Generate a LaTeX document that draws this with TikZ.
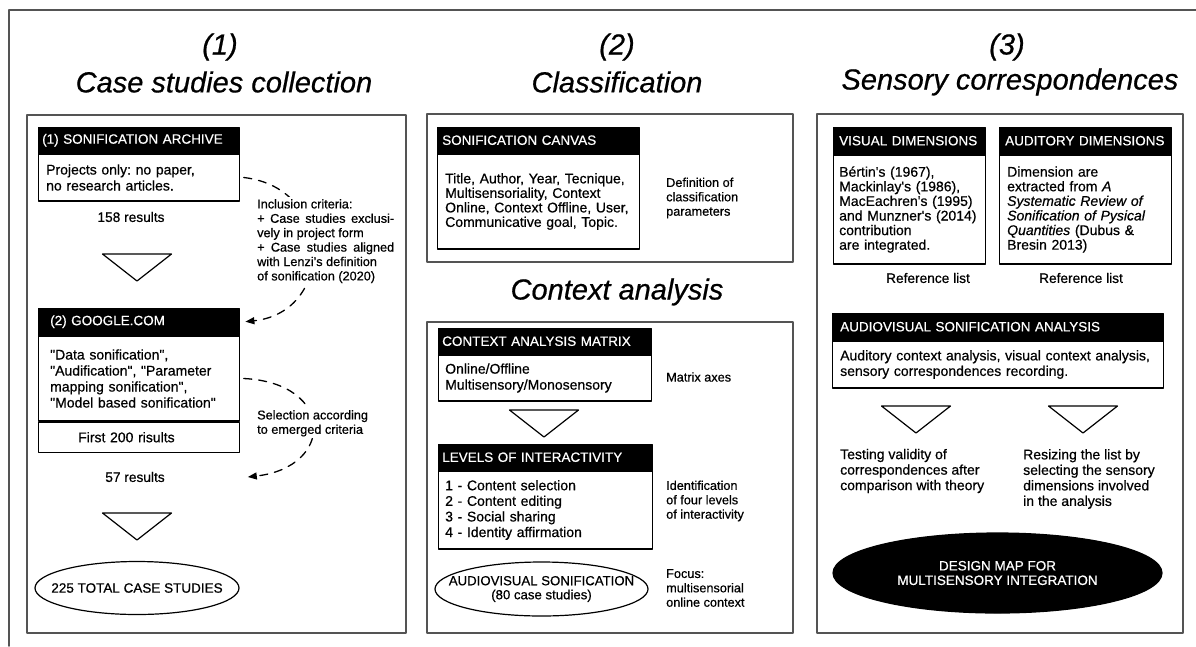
\documentclass[tikz,border=0pt]{standalone}
\usepackage{fontspec}
\setmainfont{Liberation Sans}[FakeBold=0.6]
\usetikzlibrary{arrows.meta,positioning,shapes.geometric}
\definecolor{framegray}{rgb}{0.33,0.33,0.33}

\newcommand{\hdrfont}{\fontsize{13.5}{15}\selectfont}
\newcommand{\txtfont}[1]{\fontsize{14}{#1}\selectfont}
\newcommand{\sidefont}{\fontsize{12.7}{14.4}\selectfont}
\newcommand{\ttlfont}{\fontsize{29}{30}\selectfont\itshape}
\newcommand{\qt}[1]{\textquotedbl#1\textquotedbl}
\frenchspacing

\begin{document}
\begin{tikzpicture}[x=1pt,y=-1pt,line cap=round,line join=round,>={Triangle[length=9pt,width=7pt]},
  panel/.style={draw=framegray,line width=1.5pt},
  hdr/.style={draw=black,fill=black,text=white,anchor=north west,minimum height=26pt,inner xsep=4pt,inner ysep=0pt,align=left,font=\hdrfont},
  bodybox/.style={draw=black,line width=1.2pt,align=left,inner xsep=8pt,inner ysep=0pt},
  sidetxt/.style={anchor=west,align=left,inner sep=0pt,font=\sidefont},
  note/.style={font=\fontsize{13.7}{15}\selectfont},
  ttl/.style={font=\ttlfont},
  oval/.style={ellipse,draw=black,line width=1.2pt,inner sep=0pt},
  ovaltxt/.style={align=center,inner sep=0pt,font=\hdrfont},
  crit/.style={dash pattern=on 8pt off 7pt,line width=1.3pt,->},
  downtri/.pic={\draw[line width=1.2pt] (-34.5,0) -- (34.5,0) -- (0,27) -- cycle;}
]
\useasboundingbox (0,0) rectangle (1196,646);

% outer frame
\draw[framegray,line width=1.5pt] (9,646) -- (9,10) -- (1196,10);

% (1) case studies collection
\draw[panel] (27,115) rectangle (406,633);
\node[ttl] (num1) at (220,47) {(1)};
\node[ttl] (ttl1) at (224,82) {Case studies collection};

\node[hdr,text width=193pt] (archH) at (38,127) {(1) SONIFICATION ARCHIVE};
\node[bodybox,text width=185pt,minimum height=47pt,font=\txtfont{16}] (archB) [below=0pt of archH] {Projects only: no paper,\\no research articles.};
\node[note] (res1) at (131,217) {158 results};
\pic at (137,254) {downtri};

\node[hdr,text width=177pt,inner xsep=12pt,minimum height=27pt] (googH) at (38,308) {(2) GOOGLE.COM};
\node[bodybox,text width=177pt,inner xsep=12pt,minimum height=85pt,font=\txtfont{16}] (googB) [below=0pt of googH] {\qt{Data sonification},\\\qt{Audification}, \qt{Parameter\\mapping sonification},\\\qt{Model based sonification}};
\node[bodybox,text width=121pt,inner xsep=40pt,minimum height=30pt,font=\txtfont{16}] (googF) [below=0pt of googB] {First 200 risults};
\node[note] (res2) at (135,477) {57 results};
\pic at (137,513) {downtri};
\node[oval,minimum width=204pt,minimum height=53pt] (total) at (137,588) {};
\node[ovaltxt] (totalT) at (total) {225 TOTAL CASE STUDIES};

% dashed selection arrows
\draw[crit] ([xshift=4pt]archB.east) .. controls (335,188) and (335,312) .. ([xshift=6pt]googH.east);
\node[sidetxt,fill=white,text width=137pt,align=justify,anchor=north west,inner sep=2pt] (incl) at (255,197) {Inclusion criteria:\newline + Case studies exclusi-\linebreak vely in project form\newline + Case studies aligned\linebreak with Lenzi’s definition\newline of sonification (2020)};
\coordinate (c2e) at ([xshift=8pt]googF.east |- res2.center);
\draw[crit] ([xshift=4pt]googB.east) .. controls (335,383) and (335,467) .. (c2e);
\node[sidetxt,fill=white,anchor=north west,inner sep=2pt] (sel) at (255,408) {Selection according\\to emerged criteria};

% (2) classification
\draw[panel] (427,114) rectangle (793,262);
\node[ttl] (num2) at (617,47) {(2)};
\node[ttl] (ttl2) at (617,82) {Classification};
\node[hdr,text width=192pt,inner xsep=5pt] (canvH) at (437,127) {SONIFICATION CANVAS};
\node[bodybox,text width=186pt,minimum height=95pt,font=\txtfont{14.5}] (canvB) [below=0pt of canvH] {Title, Author, Year, Tecnique,\\Multisensoriality, Context\\Online, Context Offline, User,\\Communicative goal, Topic.};
\node[sidetxt] (canvS) at (666,198) {Definition of\\classification\\parameters};

% context analysis
\node[ttl] (ttl2b) at (617,292) {Context analysis};
\draw[panel] (427,322) rectangle (793,633);
\node[hdr,text width=205pt] (camH) at (438,328) {CONTEXT ANALYSIS MATRIX};
\node[bodybox,text width=199pt,inner xsep=7pt,minimum height=46pt,font=\txtfont{16}] (camB) [below=0pt of camH] {Online/Offline\\Multisensory/Monosensory};
\node[sidetxt] (camS) at (666,377) {Matrix axes};
\pic at (544,410) {downtri};
\node[hdr,text width=206pt] (loiH) at (438,444) {LEVELS OF INTERACTIVITY};
\node[bodybox,text width=200pt,inner xsep=7pt,minimum height=78pt,font=\txtfont{15.6}] (loiB) [below=0pt of loiH] {1 - Content selection\\2 - Content editing\\3 - Social sharing\\4 - Identity affirmation};
\node[sidetxt] (loiS) at (666,501) {Identification\\of four levels\\of interactivity};
\node[oval,minimum width=213pt,minimum height=54pt] (avs) at (541.5,589) {};
\node[ovaltxt,font=\fontsize{13.2}{14}\selectfont] (avsT) at (avs) {AUDIOVISUAL SONIFICATION\\(80 case studies)};
\node[sidetxt] (avsS) at (666,588) {Focus:\\multisensorial\\online context};

% (3) sensory correspondences
\draw[panel] (817,114) rectangle (1183,633);
\node[ttl] (num3) at (1007,47) {(3)};
\node[ttl] (ttl3) at (1010,82) {Sensory correspondences};
\node[hdr,text width=140pt,inner xsep=6pt,minimum height=27pt] (visH) at (833,127) {VISUAL DIMENSIONS};
\node[bodybox,text width=140pt,inner xsep=6pt,minimum height=109pt,font=\txtfont{14.6}] (visB) [below=0pt of visH] {Bértin\textquotesingle s (1967),\\Mackinlay\textquotesingle s (1986),\\MacEachren\textquotesingle s (1995)\\and Munzner\textquotesingle s (2014)\\contribution\\are integrated.};
\node[hdr,text width=160pt,inner xsep=6pt,minimum height=27pt] (audH) at (999,127) {AUDITORY DIMENSIONS};
\node[bodybox,text width=156pt,inner xsep=8pt,minimum height=109pt,font=\txtfont{14.6}] (audB) [below=0pt of audH] {Dimension are\\extracted from \textit{A}\\\textit{Systematic Review of}\\\textit{Sonification of Pysical}\\\textit{Quantities} (Dubus \&\\Bresin 2013)};
\node[note] (refV) at (928,278) {Reference list};
\node[note] (refA) at (1081,278) {Reference list};

\node[hdr,text width=315pt,inner xsep=8pt,minimum height=27pt] (avaH) at (832,313) {AUDIOVISUAL SONIFICATION ANALYSIS};
\node[bodybox,text width=315pt,inner xsep=8pt,minimum height=47pt,font=\txtfont{15.5}] (avaB) [below=0pt of avaH] {Auditory context analysis, visual context analysis,\\sensory correspondences recording.};
\pic at (916,406) {downtri};
\pic at (1083,406) {downtri};
\node[sidetxt,font=\txtfont{15.5}] (testT) at (840,471) {Testing validity of\\correspondences after\\comparison with theory};
\node[sidetxt,font=\txtfont{15.5}] (resT) at (1023,479) {Resizing the list by\\selecting the sensory\\dimensions involved\\in the analysis};
\node[oval,fill=black,minimum width=329pt,minimum height=80pt] (dmap) at (997.5,573) {};
\node[ovaltxt,text=white,font=\fontsize{13.5}{14.5}\selectfont] (dmapT) at (dmap) {DESIGN MAP FOR\\MULTISENSORY INTEGRATION};
\end{tikzpicture}
\end{document}
